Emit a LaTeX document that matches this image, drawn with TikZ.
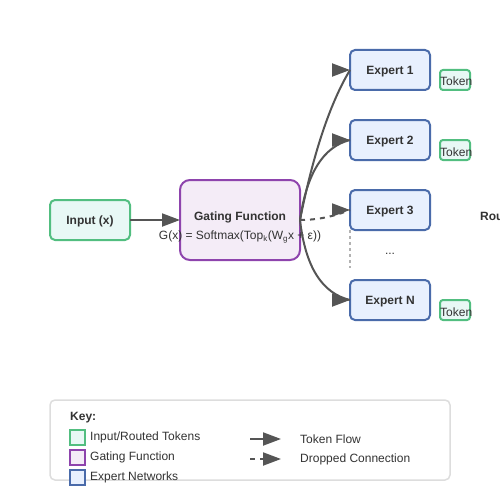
\documentclass[tikz,border=0pt]{standalone}
\usepackage{fontspec}
\setmainfont{Liberation Sans}
\usetikzlibrary{positioning,arrows.meta}
\definecolor{ink}{HTML}{333333}
\definecolor{flowgray}{HTML}{555555}
\definecolor{tokgreen}{HTML}{52BE80}
\definecolor{tokfill}{HTML}{E8F8F5}
\definecolor{gatepurple}{HTML}{8E44AD}
\definecolor{gatefill}{HTML}{F4ECF7}
\definecolor{expblue}{HTML}{4A6BAA}
\definecolor{expfill}{HTML}{E8F0FE}
\definecolor{keygray}{HTML}{DDDDDD}
\begin{document}
\begin{tikzpicture}[x=1pt,y=-1pt,
  box/.style={draw,line width=2pt,outer sep=0pt,rounded corners=5pt,minimum width=80pt,minimum height=40pt,align=center,text depth=0pt,text=ink,font=\bfseries\fontsize{12}{14}\selectfont},
  inbox/.style={box,draw=tokgreen,fill=tokfill},
  gatebox/.style={box,draw=gatepurple,fill=gatefill,rounded corners=10pt,minimum width=120pt,minimum height=80pt},
  expert/.style={box,draw=expblue,fill=expfill},
  token/.style={draw=tokgreen,fill=tokfill,line width=2pt,outer sep=0pt,inner sep=0pt,rounded corners=3pt,minimum width=30pt,minimum height=20pt},
  swatch/.style={draw,line width=2pt,outer sep=0pt,inner sep=0pt,minimum size=15pt},
  txt/.style={inner sep=0pt,text=ink,font=\fontsize{12}{14}\selectfont},
  bold/.style={txt,font=\bfseries\fontsize{12}{14}\selectfont},
  flow/.style={draw=flowgray,line width=2pt},
  drop/.style={flow,dash pattern=on 5pt off 5pt},
  tip/.style={flow,-{Triangle[length=18pt,width=13pt]}},
  dotline/.style={draw=gray!60,line width=2pt,dash pattern=on 3pt off 3pt}
]
\useasboundingbox (0,0) rectangle (500,500);

% Input and gating
\node[inbox] (in) at (90,220) {Input (x)};
\node[gatebox,right=50pt of in] (gate) {};
\node[bold,anchor=base] (gtitle) at (gate.center) {Gating Function};
\node[txt,anchor=base] (gform) at ([yshift=-19.5pt]gate.center) {G(x) = Softmax(Top\textsubscript{k}(W\textsubscript{g}x + ε))};
\draw[tip] (in) -- (gate);

% Experts
\node[expert] (e1) at (390,70) {Expert 1};
\node[expert,below=30pt of e1] (e2) {Expert 2};
\node[expert,below=30pt of e2] (e3) {Expert 3};
\node[expert,below=50pt of e3] (eN) {Expert N};
\node[txt,anchor=base] (dots) at ([yshift=-24pt]e3.south) {...};
\coordinate (gapend) at ([yshift=-38pt]e3.south west);
\draw[dotline] (e3.south west) -- (gapend);

% Routed tokens
\node[token,anchor=south west] (t1) at ([xshift=10pt]e1.south east) {};
\node[token,anchor=south west] (t2) at ([xshift=10pt]e2.south east) {};
\node[token,anchor=south west] (tN) at ([xshift=10pt]eN.south east) {};
\node[txt,anchor=base west] at ([yshift=-6pt]t1.west) {Token};
\node[txt,anchor=base west] at ([yshift=-6pt]t2.west) {Token};
\node[txt,anchor=base west] at ([yshift=-6pt]tN.west) {Token};
\node[bold,anchor=base west] (rou) at (480,220) {Rou};

% Routing
\draw[flow] (gate.east) .. controls (313.3,153.3) and (330,103.3) .. (e1.west);
\draw[flow] (gate.east) .. controls (306.7,173.3) and (323.3,146.7) .. (e2.west);
\draw[drop] (gate.east) .. controls (316.7,220) and (333.3,216.7) .. (e3.west);
\draw[flow] (gate.east) .. controls (305.3,266.7) and (322,293.3) .. (eN.west);
\draw[tip] ([xshift=-18pt]e1.west) -- (e1.west);
\draw[tip] ([xshift=-18pt]e2.west) -- (e2.west);
\draw[tip] ([xshift=-18pt]e3.west) -- (e3.west);
\draw[tip] ([xshift=-18pt]eN.west) -- (eN.west);

% Key
\node[draw=keygray,line width=1.5pt,fill=white,rounded corners=5pt,minimum width=400pt,minimum height=80pt] (key) at (250,440) {};
\node[bold,anchor=base west] (keyt) at (70,420) {Key:};
\node[swatch,draw=tokgreen,fill=tokfill] (s1) at (77.5,437.5) {};
\node[swatch,draw=gatepurple,fill=gatefill,below=5pt of s1] (s2) {};
\node[swatch,draw=expblue,fill=expfill,below=5pt of s2] (s3) {};
\node[txt,right=5pt of s1] {Input/Routed Tokens};
\node[txt,right=5pt of s2] {Gating Function};
\node[txt,right=5pt of s3] {Expert Networks};
\coordinate (fa) at (250,439);
\coordinate (fb) at (281,439);
\coordinate (da) at (250,459);
\coordinate (db) at (281,459);
\draw[tip] (fa) -- (fb);
\draw[drop,-{Triangle[length=18pt,width=13pt]}] (da) -- (db);
\node[txt,anchor=west] at ([xshift=19pt]fb) {Token Flow};
\node[txt,anchor=west] at ([xshift=19pt]db) {Dropped Connection};
\end{tikzpicture}
\end{document}
